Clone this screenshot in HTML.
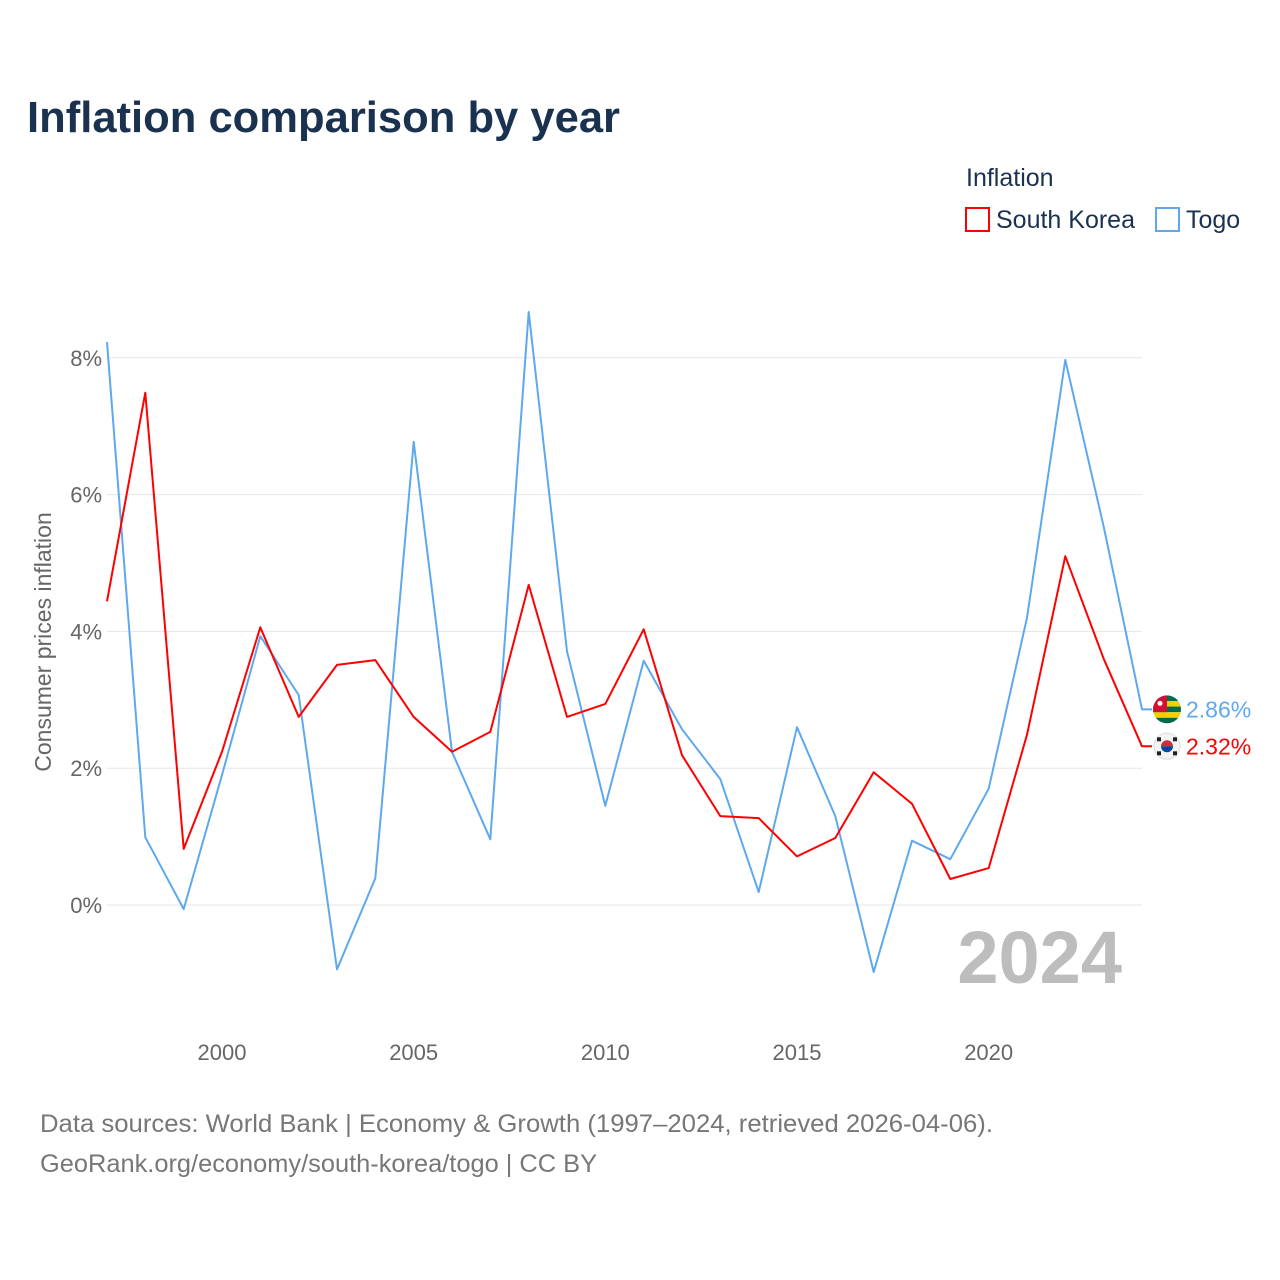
<!DOCTYPE html>
<html><head><meta charset="utf-8">
<style>
body{margin:0;background:#fff;font-family:"Liberation Sans",sans-serif;}
svg{display:block}
</style></head>
<body>
<svg id="chart" width="1280" height="1280" viewBox="0 0 1280 1280">
<text x="27" y="132" font-size="44" font-weight="bold" fill="#1a3150" textLength="593" lengthAdjust="spacingAndGlyphs">Inflation comparison by year</text>
<text x="966" y="186" font-size="25" fill="#1a3150">Inflation</text>
<g>
<rect x="966" y="208" width="23" height="23" fill="none" stroke="#ff0000" stroke-width="2"/>
<text x="996" y="228" font-size="25" fill="#1a3150">South Korea</text></g>
<g>
<rect x="1156" y="208" width="23" height="23" fill="none" stroke="#5ea9ee" stroke-width="2"/>
<text x="1186" y="228" font-size="25" fill="#1a3150">Togo</text></g>
<g id="grid"></g>
<g id="lines"></g>
<text x="1122" y="983" font-size="74" font-weight="bold" fill="#bdbdbd" text-anchor="end">2024</text>
<text transform="translate(51,642) rotate(-90)" font-size="23" fill="#666" text-anchor="middle">Consumer prices inflation</text>
<text x="40" y="1132" font-size="25" fill="#777" textLength="953" lengthAdjust="spacingAndGlyphs">Data sources: World Bank | Economy &amp; Growth (1997–2024, retrieved 2026-04-06).</text>
<text x="40" y="1172" font-size="25" fill="#777" textLength="557" lengthAdjust="spacingAndGlyphs">GeoRank.org/economy/south-korea/togo | CC BY</text>
</svg>
<script>
const years=[1997,1998,1999,2000,2001,2002,2003,2004,2005,2006,2007,2008,2009,2010,2011,2012,2013,2014,2015,2016,2017,2018,2019,2020,2021,2022,2023,2024];
const korea=[4.44,7.49,0.82,2.24,4.06,2.75,3.51,3.58,2.75,2.24,2.53,4.68,2.75,2.94,4.03,2.19,1.30,1.27,0.71,0.98,1.94,1.48,0.38,0.54,2.49,5.10,3.60,2.32];
const togo=[8.23,0.99,-0.06,1.90,3.93,3.07,-0.94,0.39,6.77,2.24,0.96,8.67,3.71,1.45,3.57,2.57,1.84,0.19,2.60,1.30,-0.98,0.94,0.67,1.70,4.20,7.97,5.53,2.86];
const yTicks=[0,2,4,6,8];
const xTicks=[2000,2005,2010,2015,2020];
const NS="http://www.w3.org/2000/svg";
const X=y=>107+(y-1997)*(1142-107)/27;
const Y=v=>905-v*68.4;
function mk(tag,attrs,parent){const e=document.createElementNS(NS,tag);for(const k in attrs)e.setAttribute(k,attrs[k]);parent.appendChild(e);return e;}
const grid=document.getElementById('grid'),lines=document.getElementById('lines');
yTicks.forEach(t=>{
 const l=mk('line',{x1:107,x2:1142,y1:Y(t),y2:Y(t),stroke:'#e6e6e6','stroke-width':1},grid);
 
 
 const tx=mk('text',{x:102,y:Y(t)+8,'font-size':22,fill:'#666','text-anchor':'end'},grid);
 tx.textContent=t+'%';
 
 
});
xTicks.forEach(t=>{
 const tx=mk('text',{x:X(t),y:1060,'font-size':22,fill:'#666','text-anchor':'middle'},grid);
 tx.textContent=t;
 
 
});
function series(vals,color,name){
 let d=vals.map((v,i)=>(i?'L':'M')+X(years[i]).toFixed(1)+','+Y(v).toFixed(1)).join(' ');
 d+=' L'+(X(2024)+10)+','+Y(vals[vals.length-1]).toFixed(1);
 const p=mk('path',{d:d,fill:'none',stroke:color,'stroke-width':2,'stroke-linejoin':'round'},lines);
 
 
 const v=vals[vals.length-1];
 const t=mk('text',{x:1186,y:Y(v)+8,'font-size':23,fill:color},lines);
 t.textContent=v.toFixed(2)+'%';
 
 
}
series(togo,'#5ea9ee','togo');
series(korea,'#ff0000','south-korea');
const fT=mk('g',{},lines);


const cy1=Y(togo[27]);
const cp=mk('clipPath',{id:'c1'},fT);
mk('circle',{cx:1167,cy:cy1,r:14},cp);
const g1=mk('g',{'clip-path':'url(#c1)'},fT);
for(let i=0;i<5;i++)mk('rect',{x:1153,y:cy1-14+i*5.6,width:28,height:5.6,fill:i%2?'#f2d000':'#006a4e'},g1);
mk('rect',{x:1153,y:cy1-14,width:14,height:16.8,fill:'#d21034'},g1);
mk('circle',{cx:1160,cy:cy1-6,r:2.5,fill:'#fff'},g1);
const fK=mk('g',{},lines);


const cy2=Y(korea[27]);
mk('circle',{cx:1167,cy:cy2,r:13,fill:'#f4f4f4',stroke:'#ddd'},fK);
mk('path',{d:`M1161,${cy2} a6,6 0 0 1 12,0 z`,fill:'#cd2e3a'},fK);
mk('path',{d:`M1161,${cy2} a6,6 0 0 0 12,0 z`,fill:'#0047a0'},fK);
[[-8,-7],[8,-7],[-8,7],[8,7]].forEach(o=>mk('rect',{x:1167+o[0]-2,y:cy2+o[1]-2,width:4,height:4,fill:'#222'},fK));
</script>
</body></html>
